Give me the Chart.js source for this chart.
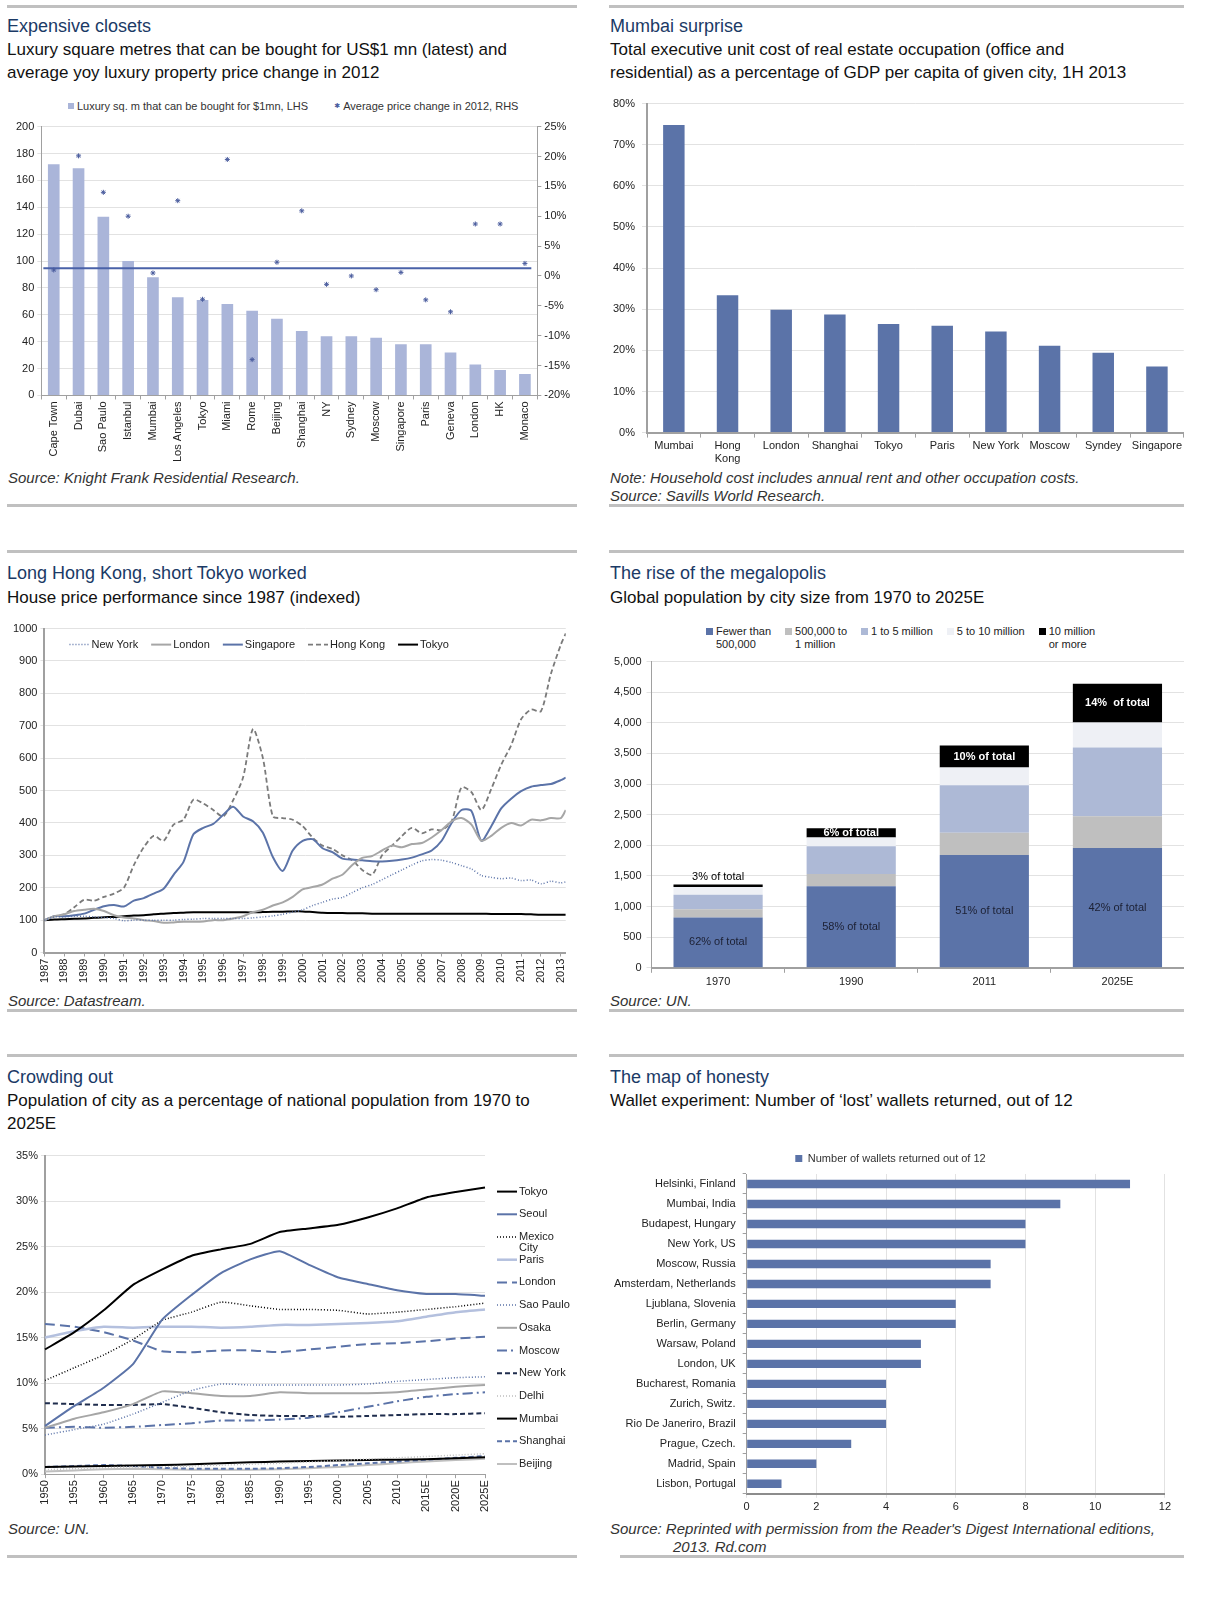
<!DOCTYPE html>
<html>
<head>
<meta charset="utf-8">
<script src="https://cdn.jsdelivr.net/npm/chart.js@4.4.1/dist/chart.umd.min.js"></script>
<style>
body{margin:0;background:#fff;font-family:"Liberation Sans",Arial,sans-serif;width:1214px;height:1602px;position:relative;overflow:hidden}
.rule{position:absolute;height:3px;background:#c0c0c0}
.title{position:absolute;font-size:18px;line-height:22px;color:#1b3a66;white-space:nowrap}
.sub{position:absolute;font-size:17px;line-height:23px;color:#111;white-space:nowrap}
.src{position:absolute;font-size:15px;line-height:18px;font-style:italic;color:#333;white-space:nowrap}
.box{position:absolute}
.leg{position:absolute;display:flex;gap:14px;font-size:11px;line-height:13px;color:#222}
.leg div{display:flex;align-items:flex-start}
.leg i{display:inline-block;width:7px;height:7px;margin:3px 3px 0 0}
.star{display:inline-block;width:8px;margin-right:2px;font-family:"DejaVu Sans",sans-serif;font-size:7px;color:#4b5d9e;text-align:center}
</style>
</head>
<body>

<div class="rule" style="left:7px;top:5px;width:570px"></div>
<div class="rule" style="left:609px;top:5px;width:575px"></div>
<div class="title" style="left:7px;top:15px">Expensive closets</div>
<div class="sub" style="left:7px;top:38px">Luxury square metres that can be bought for US$1 mn (latest) and<br>average yoy luxury property price change in 2012</div>
<div class="title" style="left:610px;top:15px">Mumbai surprise</div>
<div class="sub" style="left:610px;top:38px">Total executive unit cost of real estate occupation (office and<br>residential) as a percentage of GDP per capita of given city, 1H 2013</div>
<div class="leg" style="left:68px;top:100px;gap:25px;color:#333">
  <div><i style="background:#aab5d9;width:6px;height:6px"></i><span>Luxury sq. m that can be bought for $1mn, LHS</span></div>
  <div><span class="star">✱</span><span>Average price change in 2012, RHS</span></div>
</div>
<div class="box" style="left:13px;top:117px;width:560px;height:347px"><canvas id="c1"></canvas></div>
<div class="box" style="left:606px;top:90px;width:578px;height:378px"><canvas id="c2"></canvas></div>
<div class="src" style="left:8px;top:469px">Source: Knight Frank Residential Research.</div>
<div class="src" style="left:610px;top:469px">Note: Household cost includes annual rent and other occupation costs.<br>Source: Savills World Research.</div>
<div class="rule" style="left:7px;top:504px;width:570px"></div>
<div class="rule" style="left:609px;top:504px;width:575px"></div>

<div class="rule" style="left:7px;top:550px;width:570px"></div>
<div class="rule" style="left:609px;top:550px;width:575px"></div>
<div class="title" style="left:7px;top:562px">Long Hong Kong, short Tokyo worked</div>
<div class="sub" style="left:7px;top:586px">House price performance since 1987 (indexed)</div>
<div class="title" style="left:610px;top:562px">The rise of the megalopolis</div>
<div class="sub" style="left:610px;top:586px">Global population by city size from 1970 to 2025E</div>
<div class="box" style="left:10px;top:619px;width:566px;height:366px"><canvas id="c3"></canvas></div>
<div class="leg" style="left:706px;top:625px">
  <div><i style="background:#5b73a8"></i><span>Fewer than<br>500,000</span></div>
  <div><i style="background:#bfbfbf"></i><span>500,000 to<br>1 million</span></div>
  <div><i style="background:#adb9d6"></i><span>1 to 5 million</span></div>
  <div><i style="background:#eef0f5"></i><span>5 to 10 million</span></div>
  <div><i style="background:#000"></i><span>10 million<br>or more</span></div>
</div>
<div class="box" style="left:609px;top:650px;width:575px;height:342px"><canvas id="c4"></canvas></div>
<div class="src" style="left:8px;top:992px">Source: Datastream.</div>
<div class="src" style="left:610px;top:992px">Source: UN.</div>
<div class="rule" style="left:7px;top:1009px;width:570px"></div>
<div class="rule" style="left:609px;top:1009px;width:575px"></div>

<div class="rule" style="left:7px;top:1054px;width:570px"></div>
<div class="rule" style="left:609px;top:1054px;width:575px"></div>
<div class="title" style="left:7px;top:1066px">Crowding out</div>
<div class="sub" style="left:7px;top:1089px">Population of city as a percentage of national population from 1970 to<br>2025E</div>
<div class="title" style="left:610px;top:1066px">The map of honesty</div>
<div class="sub" style="left:610px;top:1089px">Wallet experiment: Number of ‘lost’ wallets returned, out of 12</div>
<div class="box" style="left:13px;top:1146px;width:565px;height:368px"><canvas id="c5"></canvas></div>
<div class="box" style="left:607px;top:1143px;width:567px;height:374px"><canvas id="c6"></canvas></div>
<div class="src" style="left:8px;top:1520px">Source: UN.</div>
<div class="src" style="left:610px;top:1520px">Source: Reprinted with permission from the Reader's Digest International editions,<br><span style="padding-left:63px">2013. Rd.com</span></div>
<div class="rule" style="left:7px;top:1555px;width:570px"></div>
<div class="rule" style="left:620px;top:1555px;width:564px"></div>

<script>
// ---- Expensive closets ----
const closetCities = ['Cape Town', 'Dubai', 'Sao Paulo', 'Istanbul', 'Mumbai', 'Los Angeles', 'Tokyo', 'Miami', 'Rome', 'Beijing',
  'Shanghai', 'NY', 'Sydney', 'Moscow', 'Singapore', 'Paris', 'Geneva', 'London', 'HK', 'Monaco'];
const sqmPerMillion = [172, 169, 133, 100, 88, 73, 71, 68, 63, 57, 48, 44, 44, 43, 38, 38, 32, 23, 19, 16];
const priceChange2012 = [1.0, 20.1, 14.0, 10.0, 0.5, 12.6, -3.9, 19.5, -14.0, 2.3, 10.9, -1.4, 0.0, -2.3, 0.6, -4.0, -6.0, 8.7, 8.7, 2.1];
const avgPriceChange = 1.3;

// ---- Mumbai surprise ----
const occupationCities = ['Mumbai', ['Hong', 'Kong'], 'London', 'Shanghai', 'Tokyo', 'Paris', 'New York', 'Moscow', 'Syndey', 'Singapore'];
const occupationCostPct = [74.8, 33.4, 29.9, 28.7, 26.4, 26.0, 24.6, 21.1, 19.4, 16.1];

// ---- Long Hong Kong, short Tokyo ----
const hpYears = [1987, 1987.5, 1988, 1988.5, 1989, 1989.5, 1990, 1990.5, 1991, 1991.5, 1992, 1992.5, 1993, 1993.5,
  1994, 1994.5, 1995, 1995.5, 1996, 1996.5, 1997, 1997.5, 1998, 1998.5, 1999, 1999.5, 2000, 2000.5, 2001, 2001.5,
  2002, 2002.5, 2003, 2003.5, 2004, 2004.5, 2005, 2005.5, 2006, 2006.5, 2007, 2007.5, 2008, 2008.5, 2009, 2009.5,
  2010, 2010.5, 2011, 2011.5, 2012, 2012.5, 2013, 2013.25];
const hpNewYork = [100, 110, 110, 112, 112, 110, 108, 105, 98, 100, 100, 100, 100, 100, 102, 103, 105, 105, 105, 105,
  105, 107, 110, 113, 118, 125, 132, 145, 155, 165, 170, 185, 200, 210, 225, 240, 255, 270, 283, 287, 285, 278, 268,
  258, 238, 232, 228, 230, 222, 224, 212, 220, 215, 218];
const hpLondon = [100, 112, 118, 128, 132, 135, 128, 115, 108, 105, 100, 97, 92, 93, 95, 95, 96, 100, 100, 105, 112,
  125, 132, 145, 155, 172, 195, 202, 210, 228, 240, 270, 292, 298, 315, 330, 325, 335, 338, 355, 378, 405, 415, 395,
  345, 360, 385, 400, 392, 410, 408, 415, 415, 440];
const hpSingapore = [100, 112, 112, 115, 120, 132, 143, 147, 142, 160, 168, 182, 197, 240, 280, 365, 385, 397, 425,
  450, 420, 405, 370, 295, 252, 315, 345, 350, 322, 310, 290, 287, 285, 282, 281, 283, 287, 293, 303, 315, 345, 400,
  440, 437, 345, 390, 445, 475, 498, 512, 517, 520, 532, 540];
const hpHongKong = [100, 112, 118, 140, 163, 160, 172, 182, 200, 270, 325, 360, 345, 395, 410, 472, 460, 440, 420,
  470, 540, 690, 600, 420, 415, 410, 390, 355, 330, 320, 300, 285, 255, 240, 300, 330, 360, 385, 368, 380, 378, 405,
  510, 495, 440, 505, 580, 640, 720, 750, 745, 860, 950, 985];
const hpTokyo = [100, 102, 103, 104, 105, 107, 109, 110, 112, 114, 115, 118, 120, 122, 123, 124, 124, 124, 124, 124,
  124, 124, 125, 126, 126, 127, 127, 125, 123, 122, 122, 121, 121, 120, 120, 120, 120, 120, 120, 120, 120, 120, 120,
  120, 120, 119, 119, 119, 119, 118, 117, 117, 117, 117];

// ---- The rise of the megalopolis ----
const megaYears = ['1970', '1990', '2011', '2025E'];
const sizeClasses = ['Fewer than 500,000', '500,000 to 1 million', '1 to 5 million', '5 to 10 million', '10 million or more'];
const popUnder500k = [820, 1330, 1840, 1957];
const pop500kTo1m = [137, 202, 367, 516];
const pop1To5m = [234, 452, 772, 1123];
const pop5To10m = [128, 144, 292, 409];
const pop10mPlus = [40, 149, 357, 633];
const shareSmallest = ['62% of total', '58% of total', '51% of total', '42% of total'];
const shareLargest = ['3% of total', '6% of total', '10% of total', '14%  of total'];

// ---- Crowding out ----
const crowdYears = ['1950', '1955', '1960', '1965', '1970', '1975', '1980', '1985', '1990', '1995', '2000', '2005',
  '2010', '2015E', '2020E', '2025E'];
const shareTokyo = [13.7, 15.6, 18.0, 20.8, 22.5, 24.0, 24.7, 25.3, 26.6, 27.0, 27.4, 28.2, 29.2, 30.4, 31.0, 31.5];
const shareSeoul = [5.3, 7.5, 9.5, 12.1, 17.0, 19.7, 22.1, 23.6, 24.5, 23.0, 21.6, 20.9, 20.2, 19.8, 19.8, 19.6];
const shareMexicoCity = [10.3, 11.7, 13.1, 14.8, 16.9, 17.8, 18.9, 18.5, 18.1, 18.1, 18.0, 17.6, 17.8, 18.1, 18.4, 18.8];
const shareParis = [15.0, 15.7, 16.2, 16.1, 16.2, 16.2, 16.1, 16.2, 16.4, 16.4, 16.5, 16.6, 16.8, 17.3, 17.8, 18.1];
const shareLondon = [16.5, 16.2, 15.6, 14.7, 13.5, 13.4, 13.6, 13.6, 13.4, 13.7, 14.0, 14.3, 14.4, 14.6, 14.9, 15.1];
const shareSaoPaulo = [4.3, 4.9, 5.5, 6.6, 7.9, 9.2, 9.9, 9.8, 9.8, 9.8, 9.8, 9.9, 10.2, 10.4, 10.6, 10.7];
const shareOsaka = [5.1, 6.1, 6.8, 7.7, 9.1, 8.9, 8.6, 8.6, 9.0, 8.9, 8.9, 8.9, 9.0, 9.3, 9.6, 9.8];
const shareMoscow = [5.1, 5.2, 5.1, 5.2, 5.4, 5.6, 5.9, 5.9, 6.0, 6.2, 6.8, 7.4, 8.0, 8.5, 8.8, 9.0];
const shareNewYork = [7.8, 7.7, 7.6, 7.6, 7.7, 7.3, 6.8, 6.5, 6.4, 6.4, 6.3, 6.4, 6.5, 6.6, 6.6, 6.7];
const shareDelhi = [0.5, 0.6, 0.7, 0.8, 0.8, 0.9, 1.0, 1.1, 1.2, 1.35, 1.5, 1.65, 1.8, 1.95, 2.1, 2.25];
const shareMumbai = [0.8, 0.85, 0.9, 0.95, 1.0, 1.1, 1.2, 1.3, 1.4, 1.45, 1.5, 1.55, 1.6, 1.65, 1.75, 1.85];
const shareShanghai = [0.8, 0.9, 1.0, 0.9, 0.7, 0.6, 0.6, 0.6, 0.65, 0.8, 1.0, 1.2, 1.4, 1.6, 1.8, 2.0];
const shareBeijing = [0.3, 0.4, 0.55, 0.6, 0.55, 0.5, 0.5, 0.5, 0.55, 0.65, 0.8, 1.0, 1.2, 1.4, 1.55, 1.7];

// ---- The map of honesty ----
const walletCities = ['Helsinki, Finland', 'Mumbai, India', 'Budapest, Hungary', 'New York, US', 'Moscow, Russia',
  'Amsterdam, Netherlands', 'Ljublana, Slovenia', 'Berlin, Germany', 'Warsaw, Poland', 'London, UK',
  'Bucharest, Romania', 'Zurich, Switz.', 'Rio De Janeriro, Brazil', 'Prague, Czech.', 'Madrid, Spain', 'Lisbon, Portugal'];
const walletsReturned = [11, 9, 8, 8, 7, 7, 6, 6, 5, 5, 4, 4, 4, 3, 2, 1];

const FONT = '"Liberation Sans", Arial, sans-serif';
Chart.defaults.font.family = FONT;
Chart.defaults.font.size = 11;
Chart.defaults.color = '#222';
Chart.defaults.animation = false;
Chart.defaults.maintainAspectRatio = false;
Chart.defaults.plugins.tooltip.enabled = false;
Chart.defaults.plugins.legend.display = false;

const BLUE = '#5b73a8';
const AXIS = '#a0a0a0';
const GRID = '#e2e2e2';

// horizontal line for the average price change, drawn over the bars but under the points
const avgLine = {
  id: 'avgLine',
  afterDatasetDraw(chart, args, opts) {
    if (args.index !== 0) return;
    const y = chart.scales.y1.getPixelForValue(opts.value);
    const a = chart.chartArea;
    const ctx = chart.ctx;
    ctx.save();
    ctx.strokeStyle = opts.color;
    ctx.lineWidth = 2;
    ctx.beginPath();
    ctx.moveTo(a.left + 2, y);
    ctx.lineTo(a.right - 6, y);
    ctx.stroke();
    ctx.restore();
  }
};

// legend made of line samples, for the two line charts
const lineLegend = {
  id: 'lineLegend',
  afterDraw(chart, args, opts) {
    const ctx = chart.ctx;
    const a = chart.chartArea;
    ctx.save();
    ctx.font = '11px ' + FONT;
    ctx.textBaseline = 'middle';
    let x = (opts.vertical ? a.right : a.left) + opts.x;
    let y = a.top + opts.y;
    chart.data.datasets.forEach(ds => {
      ctx.strokeStyle = ds.borderColor;
      ctx.lineWidth = ds.borderWidth;
      ctx.setLineDash(ds.borderDash || []);
      ctx.beginPath();
      ctx.moveTo(x, y);
      ctx.lineTo(x + opts.sample, y);
      ctx.stroke();
      ctx.setLineDash([]);
      ctx.fillStyle = '#222';
      const tx = x + opts.sample + 2;
      if (opts.vertical) {
        let lines = [ds.label];
        if (ctx.measureText(ds.label).width > opts.maxText) lines = ds.label.split(' ');
        lines.forEach((l, k) => ctx.fillText(l, tx, y + k * 11));
        y += opts.step;
      } else {
        ctx.fillText(ds.label, tx, y);
        x = tx + ctx.measureText(ds.label).width + opts.gap;
      }
    });
    ctx.restore();
  }
};

// share-of-total labels on the stacked bars
const shareText = {
  id: 'shareText',
  afterDatasetsDraw(chart, args, opts) {
    const ctx = chart.ctx;
    const base = chart.getDatasetMeta(0).data;
    const top = chart.getDatasetMeta(4).data;
    ctx.save();
    ctx.textAlign = 'center';
    ctx.textBaseline = 'middle';
    base.forEach((bar, i) => {
      ctx.font = '11px ' + FONT;
      ctx.fillStyle = '#1c2033';
      ctx.fillText(opts.lower[i], bar.x, (bar.y + bar.base) / 2);
      const t = top[i];
      if (t.base - t.y < 6) {
        ctx.fillStyle = '#000';
        ctx.fillText(opts.upper[i], t.x, t.y - 8);
      } else {
        ctx.font = 'bold 11px ' + FONT;
        ctx.fillStyle = '#fff';
        ctx.fillText(opts.upper[i], t.x, (t.y + t.base) / 2);
      }
    });
    ctx.restore();
  }
};

new Chart(document.getElementById('c1'), {
  type: 'bar',
  plugins: [avgLine],
  data: {
    labels: closetCities,
    datasets: [
      { type: 'bar', label: 'Luxury sq. m that can be bought for $1mn, LHS', data: sqmPerMillion,
        backgroundColor: '#aab5d9', barPercentage: 0.47, categoryPercentage: 1, yAxisID: 'y', order: 2 },
      { type: 'line', label: 'Average price change in 2012, RHS', data: priceChange2012, showLine: false,
        pointStyle: 'star', pointRadius: 2.5, borderColor: '#4b5d9e', backgroundColor: '#4b5d9e', borderWidth: 1,
        yAxisID: 'y1', order: 1 }
    ]
  },
  options: {
    plugins: { avgLine: { value: avgPriceChange, color: '#4a62a8' } },
    scales: {
      x: { grid: { drawOnChartArea: false, tickLength: 4, color: AXIS }, border: { color: AXIS },
        ticks: { minRotation: 90, maxRotation: 90, autoSkip: false, padding: 2 } },
      y: { min: 0, max: 200, ticks: { stepSize: 20, padding: 3 }, grid: { color: GRID, tickLength: 4 },
        border: { color: AXIS } },
      y1: { position: 'right', min: -20, max: 25, ticks: { stepSize: 5, padding: 3, callback: v => v + '%' },
        grid: { drawOnChartArea: false, tickLength: 4, color: AXIS }, border: { color: AXIS } }
    }
  }
});

new Chart(document.getElementById('c2'), {
  type: 'bar',
  data: {
    labels: occupationCities,
    datasets: [{ data: occupationCostPct, backgroundColor: BLUE, barPercentage: 0.4, categoryPercentage: 1 }]
  },
  options: {
    scales: {
      x: { grid: { drawOnChartArea: false, tickLength: 5, color: AXIS }, border: { color: AXIS, width: 2 },
        ticks: { maxRotation: 0, autoSkip: false, padding: 2 } },
      y: { min: 0, max: 80, ticks: { stepSize: 10, padding: 7, callback: v => v + '%' },
        grid: { color: GRID, tickLength: 5 }, border: { color: AXIS, width: 2 } }
    }
  }
});

const line = (label, data, color, width, dash) =>
  ({ label, data, borderColor: color, backgroundColor: color, borderWidth: width, borderDash: dash,
     pointRadius: 0, tension: 0.25 });

new Chart(document.getElementById('c3'), {
  type: 'line',
  plugins: [lineLegend],
  data: {
    datasets: [
      line('New York', hpNewYork.map((v, i) => ({ x: hpYears[i], y: v })), BLUE, 1.5, [1, 2]),
      line('London', hpLondon.map((v, i) => ({ x: hpYears[i], y: v })), '#a6a6a6', 2, []),
      line('Singapore', hpSingapore.map((v, i) => ({ x: hpYears[i], y: v })), BLUE, 2, []),
      line('Hong Kong', hpHongKong.map((v, i) => ({ x: hpYears[i], y: v })), '#7a7a7a', 1.8, [5, 3]),
      line('Tokyo', hpTokyo.map((v, i) => ({ x: hpYears[i], y: v })), '#000', 2, [])
    ]
  },
  options: {
    plugins: { lineLegend: { x: 25, y: 16, sample: 20, gap: 13 } },
    scales: {
      x: { type: 'linear', min: 1987, max: 2013.25,
        afterBuildTicks: s => { s.ticks = s.ticks.filter(t => Number.isInteger(t.value)); },
        grid: { drawOnChartArea: false, tickLength: 4, color: AXIS }, border: { color: AXIS, width: 2 },
        ticks: { stepSize: 1, includeBounds: false, minRotation: 90, maxRotation: 90, autoSkip: false, padding: 2,
          callback: v => String(v) } },
      y: { min: 0, max: 1000, ticks: { stepSize: 100, padding: 3, callback: v => String(v) },
        grid: { color: GRID, tickLength: 4 }, border: { color: AXIS, width: 2 } }
    }
  }
});

new Chart(document.getElementById('c4'), {
  type: 'bar',
  plugins: [shareText],
  data: {
    labels: megaYears,
    datasets: [
      { label: sizeClasses[0], data: popUnder500k, backgroundColor: BLUE },
      { label: sizeClasses[1], data: pop500kTo1m, backgroundColor: '#bfbfbf' },
      { label: sizeClasses[2], data: pop1To5m, backgroundColor: '#adb9d6' },
      { label: sizeClasses[3], data: pop5To10m, backgroundColor: '#eef0f5' },
      { label: sizeClasses[4], data: pop10mPlus, backgroundColor: '#000' }
    ].map(d => Object.assign(d, { barPercentage: 0.67, categoryPercentage: 1 }))
  },
  options: {
    plugins: { shareText: { lower: shareSmallest, upper: shareLargest } },
    scales: {
      x: { stacked: true, grid: { drawOnChartArea: false, tickLength: 5, color: AXIS }, border: { color: AXIS, width: 2 },
        ticks: { padding: 3 } },
      y: { stacked: true, min: 0, max: 5000,
        ticks: { stepSize: 500, padding: 5, callback: v => v.toLocaleString('en-US') },
        grid: { color: GRID, tickLength: 5 }, border: { color: AXIS } }
    }
  }
});

new Chart(document.getElementById('c5'), {
  type: 'line',
  plugins: [lineLegend],
  data: {
    labels: crowdYears,
    datasets: [
      line('Tokyo', shareTokyo, '#000', 2, []),
      line('Seoul', shareSeoul, BLUE, 2, []),
      line('Mexico City', shareMexicoCity, '#000', 1.5, [1, 2]),
      line('Paris', shareParis, '#b4c0de', 2.5, []),
      line('London', shareLondon, BLUE, 2, [10, 5]),
      line('Sao Paulo', shareSaoPaulo, BLUE, 1.5, [1, 2]),
      line('Osaka', shareOsaka, '#a6a6a6', 2, []),
      line('Moscow', shareMoscow, BLUE, 2, [10, 4, 2, 4]),
      line('New York', shareNewYork, '#1f2d4d', 2, [5, 3]),
      line('Delhi', shareDelhi, '#bfbfbf', 1.5, [1, 2]),
      line('Mumbai', shareMumbai, '#000', 2, []),
      line('Shanghai', shareShanghai, BLUE, 2, [5, 3]),
      line('Beijing', shareBeijing, '#bfbfbf', 2, [])
    ].map(d => Object.assign(d, { tension: 0.15 }))
  },
  options: {
    layout: { padding: { right: 93 } },
    plugins: { lineLegend: { vertical: true, x: 12, y: 36, sample: 20, step: 22.7, maxText: 52 } },
    scales: {
      x: { offset: false, grid: { drawOnChartArea: false, tickLength: 4, color: AXIS }, border: { color: AXIS },
        ticks: { minRotation: 90, maxRotation: 90, autoSkip: false, padding: 2 } },
      y: { min: 0, max: 35, ticks: { stepSize: 5, padding: 3, callback: v => v + '%' },
        grid: { color: GRID, tickLength: 4 }, border: { color: AXIS, width: 2 } }
    }
  }
});

new Chart(document.getElementById('c6'), {
  type: 'bar',
  data: {
    labels: walletCities,
    datasets: [{ label: 'Number of wallets returned out of 12', data: walletsReturned, backgroundColor: BLUE,
      barPercentage: 0.42, categoryPercentage: 1 }]
  },
  options: {
    indexAxis: 'y',
    plugins: { legend: { display: true, labels: { boxWidth: 7, boxHeight: 7, color: '#333' } } },
    scales: {
      x: { min: 0, max: 12, ticks: { stepSize: 2, padding: 3 }, grid: { color: GRID, tickLength: 4 },
        border: { color: '#8c8c8c', width: 2 } },
      y: { grid: { drawOnChartArea: false, tickLength: 4, color: AXIS }, border: { color: AXIS },
        ticks: { autoSkip: false, padding: 7 } }
    }
  }
});
</script>
</body>
</html>
